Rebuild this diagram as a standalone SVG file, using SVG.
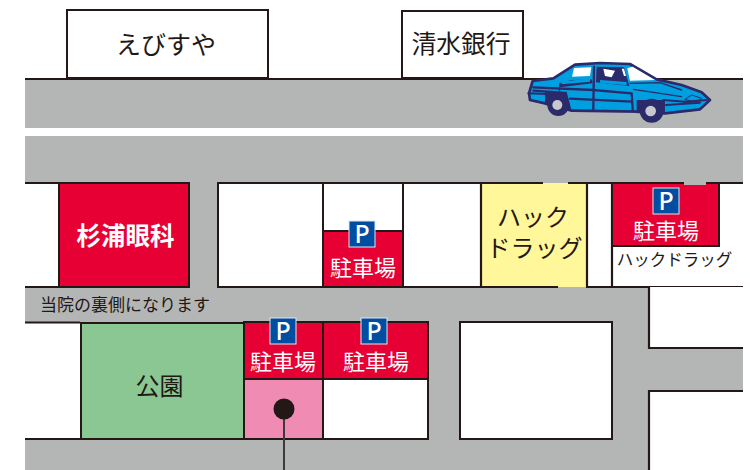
<svg xmlns="http://www.w3.org/2000/svg" width="750" height="470" viewBox="0 0 750 470">
<style>
text{font-family:"Noto Sans CJK JP","Noto Sans",sans-serif;text-anchor:middle;fill:#231815;font-weight:400}
.w{fill:#fff;stroke:#231815;stroke-width:2}
.r{fill:#e60033;stroke:#231815;stroke-width:2}
.l{stroke:#231815;stroke-width:2.2;fill:none}
.wt{fill:#fff}
.pk{fill:#fff;font-size:22px}
.sign{fill:#004ea2;stroke:#dfe6f0;stroke-width:1}
.pt{fill:#fff;font-family:"Noto Sans",sans-serif;font-size:25px;font-weight:500}
.cd{fill:none;stroke:#2b2a6b;stroke-linecap:round;stroke-linejoin:round}
</style>
<defs>
<g id="psign"><rect class="sign" x="-13" y="-13" width="26" height="26"/><text class="pt" x="0" y="9">P</text></g>
</defs>
<rect width="750" height="470" fill="#fff"/>
<g id="roads">
<rect x="25" y="79" width="718" height="49" fill="#b4b6b5"/>
<rect x="25" y="136" width="718" height="334" fill="#b4b6b5"/>
<line class="l" x1="25" y1="79" x2="743" y2="79"/>
</g>
<g id="ebisuya"><rect class="w" x="67" y="10" width="201" height="68"/><text x="166" y="54" font-size="25">えびすや</text></g>
<g id="shimizu-bank"><rect class="w" x="402" y="11" width="121" height="67"/><text x="461" y="53" font-size="24.800">清水銀行</text></g>
<g id="left-strip"><rect x="25" y="183" width="34" height="104" fill="#fff"/><path class="l" d="M25 183H59M25 287H59"/></g>
<g id="sugiura"><rect class="r" x="59" y="183" width="130" height="104"/><text class="wt" x="125.500" y="245" font-size="24.500" style="font-weight:700">杉浦眼科</text></g>
<g id="block-a"><rect class="w" x="218" y="183" width="105" height="104"/></g>
<g id="block-b"><rect class="w" x="323" y="183" width="80" height="48"/></g>
<g id="parking-1"><rect class="r" x="323" y="231" width="80" height="56"/><use href="#psign" x="362" y="234"/><text class="pk" x="363" y="276">駐車場</text></g>
<g id="block-c"><rect class="w" x="403" y="183" width="78" height="104"/></g>
<g id="block-d"><rect class="w" x="587" y="183" width="25" height="104"/></g>
<g id="hack-drug"><rect x="481" y="183" width="106" height="104" fill="#fff799"/><path class="l" d="M481 183V287M587 183V287M481 183H543M568 183H587M481 287H558"/><text x="533" y="226" font-size="24">ハック</text><text x="534.500" y="257" font-size="24">ドラッグ</text></g>
<g id="parking-2"><rect x="612" y="183" width="131" height="104" fill="#fff"/><path class="l" d="M743 287H612V183"/><rect class="r" x="612" y="183" width="107" height="63"/><rect x="684" y="181" width="22" height="4" fill="#b4b6b5"/><rect x="719" y="182" width="24" height="2" fill="#231815"/><use href="#psign" x="666" y="201"/><text class="pk" x="666" y="239">駐車場</text><text x="674.500" y="266" font-size="16.500">ハックドラッグ</text></g>
<g id="block-e"><rect x="649" y="287" width="94" height="61" fill="#fff"/><path class="l" d="M649 287V348H743"/></g>
<g id="block-f"><rect x="649" y="391" width="94" height="79" fill="#fff"/><path class="l" d="M743 391H649V470"/></g>
<g id="note"><text x="125" y="311" font-size="17">当院の裏側になります</text></g>
<g id="block-g"><rect x="25" y="323" width="55" height="116" fill="#fff"/><path class="l" d="M25 322.500H80M25 439H80"/></g>
<g id="park"><rect x="81" y="323" width="163" height="116" fill="#8ac793" stroke="#231815" stroke-width="2"/><text x="159.500" y="395" font-size="24">公園</text></g>
<g id="clinic"><rect x="244" y="379" width="79" height="60" fill="#f08bb4" stroke="#231815" stroke-width="2"/></g>
<g id="block-h"><rect class="w" x="323" y="379" width="105" height="60"/></g>
<g id="parking-3"><rect class="r" x="244" y="322" width="79" height="57"/><use href="#psign" x="283" y="331"/><text class="pk" x="283" y="370">駐車場</text></g>
<g id="parking-4"><rect class="r" x="323" y="322" width="105" height="57"/><use href="#psign" x="374" y="331"/><text class="pk" x="376" y="370">駐車場</text></g>
<g id="block-i"><rect class="w" x="460" y="322" width="152" height="117"/></g>
<g id="connectors"><line x1="284" y1="409" x2="284" y2="470" stroke="#3e3a39" stroke-width="2"/></g>
<g id="marker"><circle cx="284" cy="409" r="10.500" fill="#231815"/></g>
<g id="car" transform="translate(500 50) scale(.3333)">
<path fill="#00a0e0" stroke="#2b2a6b" stroke-width="8" stroke-linejoin="round" d="M87 130L98 93L160 85L225 44L300 39L390 42L470 88L545 105L605 127L630 150L600 178L495 190L420 185L215 182L135 160L90 150Z"/>
<path fill="#2b2a6b" d="M135 125L200 125L215 182L135 165ZM410 150L495 150L495 190L410 190Z"/>
<path fill="#fff" d="M222 54L274 52L270 78L216 80ZM382 55L398 50L465 90L390 92Z"/>
<path fill="#2b2a6b" d="M290 50L372 52L388 108L288 97ZM178 100L215 90L275 88L278 100L180 112Z"/>
<path fill="#00a0e0" d="M185 95L270 85L270 95L185 103ZM300 90L380 96L380 106L300 98Z"/>
<path fill="#fff" d="M310 56L345 62L335 82L315 78ZM365 56L372 56L378 78L372 78Z"/>
<g class="cd">
<path stroke-width="7" d="M100 112L280 120L395 130L398 178M282 50L280 178M210 146L395 155M100 122L185 128"/>
<path stroke-width="4" d="M390 100L480 98L545 120M400 118L545 140M180 100L178 125"/>
<path stroke-width="6" d="M490 150L555 155L620 150M498 165L600 158M85 130L140 132"/>
<path stroke-width="3" d="M555 148L575 135L605 145L590 155Z"/>
</g>
<circle cx="175" cy="165" r="33" fill="#2b2a6b"/><circle cx="172" cy="165" r="15" fill="#c8c8d0"/>
<circle cx="455" cy="182" r="36" fill="#2b2a6b"/><circle cx="452" cy="183" r="16" fill="#c8c8d0"/>
</g>
</svg>
